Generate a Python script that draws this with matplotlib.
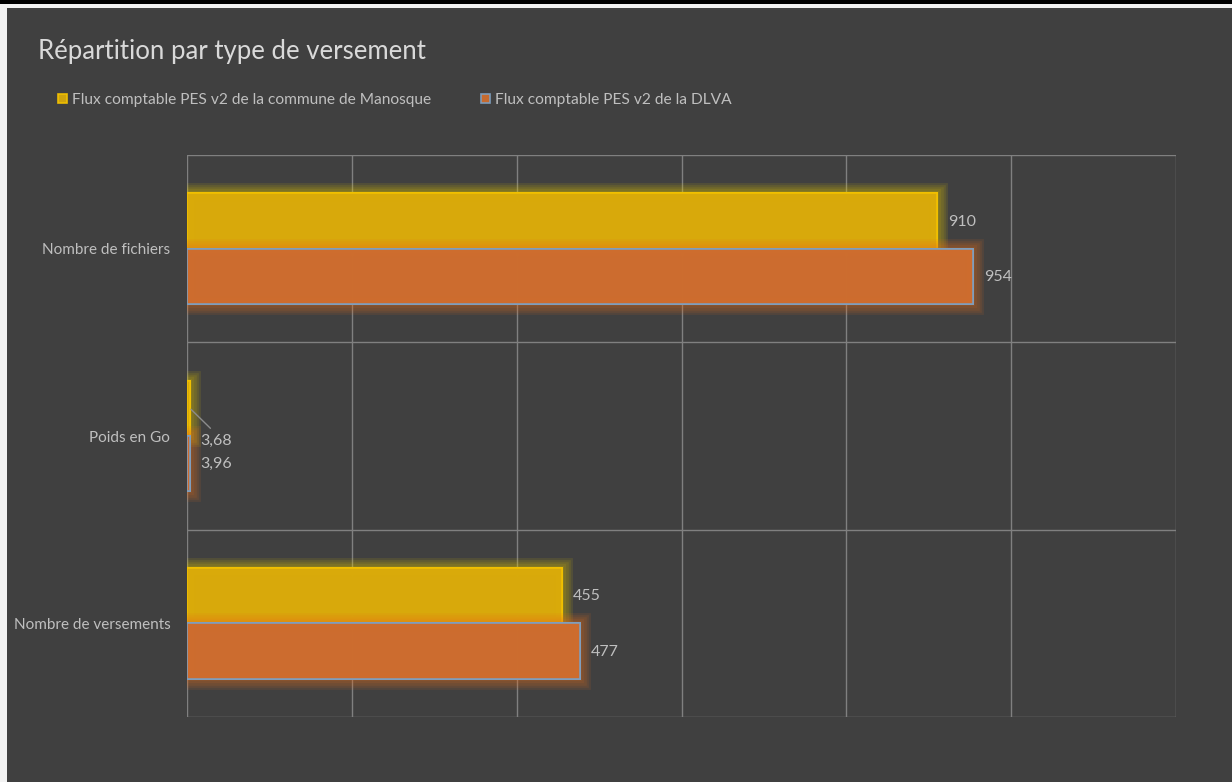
import matplotlib
matplotlib.use("Agg")
import matplotlib.pyplot as plt
import matplotlib.patheffects as pe
from matplotlib.patches import Rectangle
import numpy as np

plt.rcParams['font.family'] = ['Lato', 'DejaVu Sans']

title = "Répartition par type de versement"
categories = ["Nombre de fichiers", "Poids en Go", "Nombre de versements"]
series_names = ["Flux comptable PES v2 de la commune de Manosque",
                "Flux comptable PES v2 de la DLVA"]
manosque = [910, 3.68, 455]
dlva = [954, 3.96, 477]
manosque_labels = ["910", "3,68", "455"]
dlva_labels = ["954", "3,96", "477"]

BG = "#404040"
W, H = 1232, 782
fig = plt.figure(figsize=(W / 100, H / 100), dpi=100, facecolor="#f2f2f2")

# chart area background and frame strips
fig.patches.append(Rectangle((7 / W, 0), 1 - 7 / W, 1 - 8 / H, transform=fig.transFigure,
                             facecolor=BG, edgecolor="none", zorder=-2))
fig.patches.append(Rectangle((0, 1 - 4 / H), 1, 4 / H, transform=fig.transFigure,
                             facecolor="black", edgecolor="none", zorder=-2))

ax = fig.add_axes([187 / W, 1 - 717 / H, (1176 - 187) / W, (717 - 155) / H])
ax.set_zorder(1)
ax.patch.set_alpha(0)

y = np.arange(len(categories))
h = 0.295
ycol = "#d9aa0b"
ocol = "#cd6d2f"


def glow(color):
    effects = []
    for lw in (15, 12, 9, 6, 3):
        effects.append(pe.withStroke(linewidth=lw, foreground=color, alpha=0.11))
    effects.append(pe.Normal())
    return effects


b1 = ax.barh(y - h / 2, manosque, height=h, color=ycol, edgecolor="#f2c000",
             linewidth=1.2, alpha=0.95, zorder=3, label=series_names[0])
b2 = ax.barh(y + h / 2, dlva, height=h, color=ocol, edgecolor="#7f9fbf",
             linewidth=1.2, alpha=0.95, zorder=3, label=series_names[1])
for r in b1:
    r.set_path_effects(glow("#e8cc00"))
for r in b2:
    r.set_path_effects(glow("#e8701c"))

ax.set_xlim(0, 1200)
ax.set_ylim(2.5, -0.5)
ax.set_xticks(np.arange(0, 1201, 200))
ax.set_yticks([-0.5, 0.5, 1.5, 2.5], minor=False)
ax.set_yticklabels([])
ax.set_yticks(y, minor=True)
ax.set_yticklabels(categories, minor=True)
ax.tick_params(axis='y', which='minor', length=0, pad=12, labelsize=11, labelcolor="#bfbfbf")
ax.tick_params(axis='both', which='major', length=0, labelbottom=False, labelleft=False)
ax.grid(True, which='major', color="#808080", linewidth=1, zorder=1)
for s in ax.spines.values():
    s.set_visible(False)

lab_kw = dict(color="#bfbfbf", fontsize=11.5, va="center", ha="left")
for i in range(len(categories)):
    if i == 1:
        ax.annotate(manosque_labels[i], xy=(manosque[i], y[i] - h / 2),
                    xytext=(7.5, -23.5), textcoords="offset points",
                    arrowprops=dict(arrowstyle="-", color="#8c8c8c", lw=1,
                                    relpos=(0.5, 1.0), shrinkA=3, shrinkB=1),
                    **lab_kw)
    else:
        ax.annotate(manosque_labels[i], xy=(manosque[i], y[i] - h / 2),
                    xytext=(8, -0.5), textcoords="offset points", **lab_kw)
    ax.annotate(dlva_labels[i], xy=(dlva[i], y[i] + h / 2),
                xytext=(8, -0.5) if i != 1 else (7.5, 0), textcoords="offset points", **lab_kw)

fig.text(38 / W, 1 - 51 / H, title, color="#d9d9d9", fontsize=18.5, ha="left", va="center")

leg = fig.legend(handles=[b1, b2], labels=series_names, loc="center left",
                 bbox_to_anchor=(58 / W, 1 - 100 / H), ncol=2, frameon=False,
                 fontsize=11.2, labelcolor="#bfbfbf", handlelength=0.6, handleheight=0.6,
                 handletextpad=0.3, columnspacing=3.2, borderaxespad=0, borderpad=0)
for hnd in leg.legend_handles:
    hnd.set_path_effects([])

fig.savefig("out.png", dpi=100, facecolor=fig.get_facecolor())
